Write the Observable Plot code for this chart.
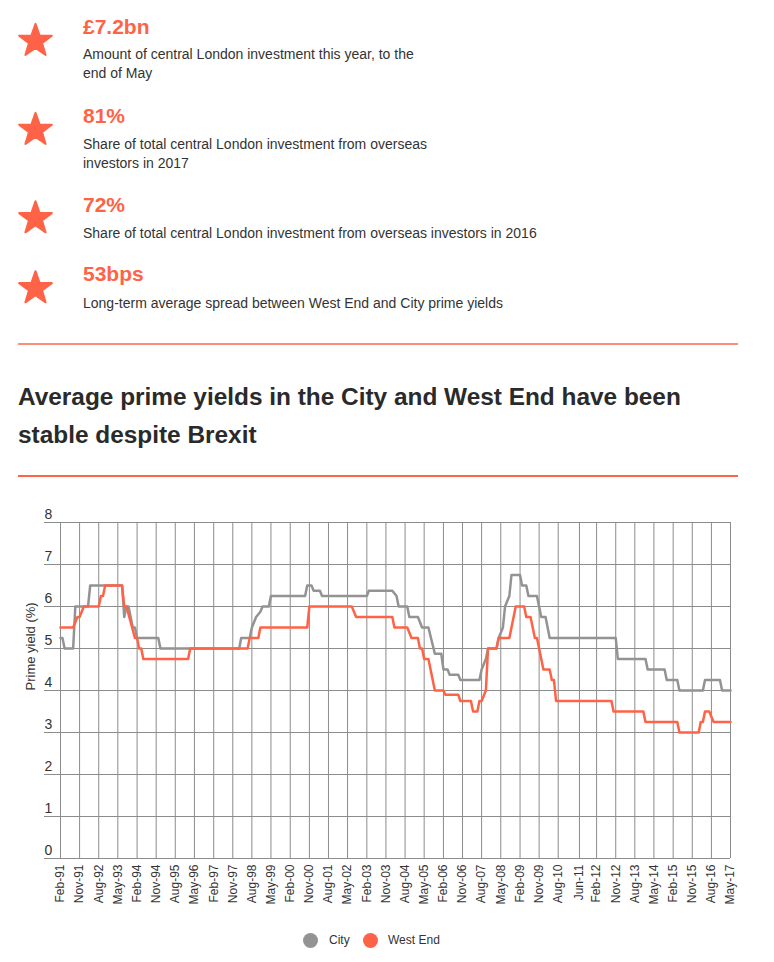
<!DOCTYPE html>
<html>
<head>
<meta charset="utf-8">
<script src="https://cdn.jsdelivr.net/npm/d3@7"></script>
<script src="https://cdn.jsdelivr.net/npm/@observablehq/plot@0.6"></script>
<style>
  html, body { margin: 0; padding: 0; background: #fff; }
  body { width: 774px; height: 962px; overflow: hidden; position: relative; font-family: "Liberation Sans", Arial, sans-serif; color: #333; }
  .big { position: absolute; left: 83px; font-weight: bold; font-size: 21px; line-height: 21px; color: #ff6347; white-space: nowrap; }
  .desc { position: absolute; left: 83px; font-size: 14px; line-height: 19px; color: #333; white-space: nowrap; }
  .rule { position: absolute; left: 18px; width: 720px; height: 2px; }
  .title { position: absolute; left: 18px; top: 377.5px; font-weight: bold; font-size: 24.4px; line-height: 38.3px; color: #2a2a2a; white-space: nowrap; }
  #stars { position: absolute; left: 0; top: 0; }
  #chart { position: absolute; left: 0; top: 500px; }
  .leg { position: absolute; top: 932px; font-size: 12px; line-height: 16px; color: #333; white-space: nowrap; }
  .dot { position: absolute; top: 932.5px; width: 15px; height: 15px; border-radius: 50%; }
</style>
</head>
<body>
<svg id="stars" width="80" height="320"></svg>

<div class="big" style="top:15.5px">£7.2bn</div>
<div class="desc" style="top:45px">Amount of central London investment this year, to the<br>end of May</div>

<div class="big" style="top:104.5px">81%</div>
<div class="desc" style="top:135px">Share of total central London investment from overseas<br>investors in 2017</div>

<div class="big" style="top:194px">72%</div>
<div class="desc" style="top:224px">Share of total central London investment from overseas investors in 2016</div>

<div class="big" style="top:263.2px">53bps</div>
<div class="desc" style="top:294px">Long-term average spread between West End and City prime yields</div>

<div class="rule" style="top:342.5px;background:#fc8d79"></div>
<div class="title">Average prime yields in the City and West End have been<br>stable despite Brexit</div>
<div class="rule" style="top:474.5px;background:#ff6347"></div>

<div id="chart"></div>

<div class="dot" style="left:303px;background:#939393"></div>
<div class="leg" style="left:329px">City</div>
<div class="dot" style="left:362.5px;background:#ff6347"></div>
<div class="leg" style="left:388px">West End</div>

<script>
// ---------- data ----------
const tickLabels = ["Feb-91","Nov-91","Aug-92","May-93","Feb-94","Nov-94","Aug-95","May-96","Feb-97","Nov-97",
  "Aug-98","May-99","Feb-00","Nov-00","Aug-01","May-02","Feb-03","Nov-03","Aug-04","May-05","Feb-06","Nov-06",
  "Aug-07","May-08","Feb-09","Nov-09","Aug-10","Jun-11","Feb-12","Nov-12","Aug-13","May-14","Feb-15","Nov-15",
  "Aug-16","May-17"];
const yTicks = [0, 1, 2, 3, 4, 5, 6, 7, 8];

const cityDates = ["1991-02","1991-03","1991-04","1991-08","1991-09","1992-03","1992-04","1993-07","1993-08","1993-09",
  "1993-10","1993-12","1994-01","1994-02","1994-12","1995-01","1998-02","1998-03","1998-07","1998-08",
  "1998-10","1998-12","1999-01","1999-04","1999-05","2000-09","2000-10","2000-12","2001-01","2001-04",
  "2001-05","2003-02","2003-03","2004-02","2004-04","2004-05","2004-09","2004-10","2005-02","2005-04",
  "2005-07","2005-10","2006-01","2006-02","2006-04","2006-05","2006-09","2006-10","2007-07","2007-08",
  "2007-10","2007-11","2008-03","2008-04","2008-06","2008-07","2008-09","2008-10","2009-02","2009-03",
  "2009-05","2009-06","2009-10","2009-12","2010-02","2010-04","2012-11","2012-12","2014-01","2014-02",
  "2014-10","2014-11","2015-04","2015-05","2016-04","2016-05","2016-12","2017-01","2017-05"];
const cityYield = [5.25,5.25,5.0,5.0,6.0,6.0,6.5,6.5,5.75,6.0,
  6.0,5.5,5.5,5.25,5.25,5.0,5.0,5.25,5.25,5.5,
  5.75,5.875,6.0,6.0,6.25,6.25,6.5,6.5,6.375,6.375,
  6.25,6.25,6.375,6.375,6.25,6.0,6.0,5.75,5.75,5.5,
  5.5,4.875,4.875,4.5,4.5,4.375,4.375,4.25,4.25,4.5,
  4.75,5.0,5.0,5.25,5.5,6.0,6.25,6.75,6.75,6.5,
  6.5,6.25,6.25,5.75,5.75,5.25,5.25,4.75,4.75,4.5,
  4.5,4.25,4.25,4.0,4.0,4.25,4.25,4.0,4.0];

const westEndDates = ["1991-02","1991-08","1991-10","1991-11","1992-01","1992-08","1992-09","1992-10","1992-11","1993-07",
  "1993-08","1993-09","1994-01","1994-02","1994-03","1994-04","1994-05","1996-02","1996-03","1998-06",
  "1998-07","1998-11","1998-12","2000-10","2000-11","2002-07","2002-09","2004-02","2004-03","2004-09",
  "2004-11","2005-02","2005-03","2005-04","2005-05","2005-07","2005-10","2006-02","2006-03","2006-09",
  "2006-10","2007-03","2007-04","2007-06","2007-07","2007-08","2007-10","2007-11","2008-03","2008-04",
  "2008-09","2008-12","2009-04","2009-05","2009-07","2009-09","2009-10","2010-01","2010-04","2010-05",
  "2010-06","2010-07","2012-09","2012-10","2013-12","2014-01","2015-04","2015-05","2016-02","2016-03",
  "2016-04","2016-05","2016-07","2016-09","2017-05"];
const westEndYield = [5.5,5.5,5.75,5.75,6.0,6.0,6.25,6.25,6.5,6.5,
  6.0,6.0,5.25,5.25,5.0,5.0,4.75,4.75,5.0,5.0,
  5.25,5.25,5.5,5.5,6.0,6.0,5.75,5.75,5.5,5.5,
  5.25,5.25,5.0,5.0,4.75,4.75,4.0,4.0,3.9,3.9,
  3.75,3.75,3.5,3.5,3.75,3.75,4.0,5.0,5.0,5.25,
  5.25,6.0,6.0,5.75,5.75,5.25,5.25,4.5,4.5,4.25,
  4.25,3.75,3.75,3.5,3.5,3.25,3.25,3.0,3.0,3.25,
  3.25,3.5,3.5,3.25,3.25];

// ---------- stars (decoration) ----------
(function () {
  const svg = d3.select("#stars");
  const centers = [41, 130, 218.4, 288.4];
  const R = 17.2, r = R * 0.4;
  centers.forEach(cy => {
    const pts = [];
    for (let i = 0; i < 10; i++) {
      const rad = i % 2 === 0 ? R : r;
      const a = -Math.PI / 2 + i * Math.PI / 5;
      pts.push([35.5 + rad * Math.cos(a), cy + rad * Math.sin(a)]);
    }
    svg.append("polygon").attr("points", pts.map(p => p.join(",")).join(" "))
      .attr("fill", "#ff6347").attr("stroke", "#ff6347").attr("stroke-width", 2).attr("stroke-linejoin", "round");
  });
})();

// ---------- chart ----------
const parseMonth = d3.utcParse("%Y-%m");
const parseTick = d3.utcParse("%b-%y");
const tickDates = tickLabels.map(parseTick);
const city = cityDates.map((d, i) => ({date: parseMonth(d), value: cityYield[i]}));
const westEnd = westEndDates.map((d, i) => ({date: parseMonth(d), value: westEndYield[i]}));

const chart = Plot.plot({
  width: 774,
  height: 412,
  marginTop: 22,
  marginBottom: 54,
  marginLeft: 44,
  marginRight: 44,
  insetLeft: 16,
  style: {fontFamily: '"Liberation Sans", Arial, sans-serif', color: "#333", background: "#fff"},
  x: {type: "utc", domain: [tickDates[0], tickDates[tickDates.length - 1]]},
  y: {domain: [0, 8], axis: null},
  marks: [
    Plot.ruleY(yTicks, {stroke: "#8c8c8c", strokeWidth: 1}),
    Plot.ruleX(tickDates, {stroke: "#8c8c8c", strokeWidth: 1}),
    Plot.axisX({ticks: tickDates, tickFormat: (d, i) => tickLabels[i], tickRotate: -90, tickSize: 0, tickPadding: 6,
      fontSize: 12, label: null, fill: "#333"}),
    Plot.text(yTicks, {y: d => d, text: d => String(d), frameAnchor: "left", textAnchor: "start", dy: -8,
      fontSize: 14, fill: "#333"}),
    Plot.text([4], {y: d => d, text: () => "Prime yield (%)", frameAnchor: "left", dx: -14, rotate: -90,
      fontSize: 13, fill: "#333"}),
    Plot.line(city, {x: "date", y: "value", stroke: "#939393", strokeWidth: 2.5}),
    Plot.line(westEnd, {x: "date", y: "value", stroke: "#ff6347", strokeWidth: 2.5})
  ]
});
document.getElementById("chart").appendChild(chart);
</script>
</body>
</html>
